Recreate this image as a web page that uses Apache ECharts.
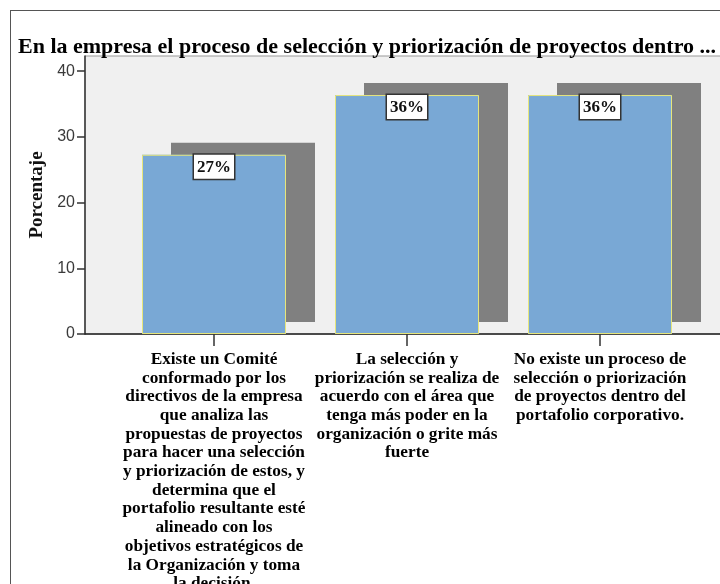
<!DOCTYPE html>
<html>
<head>
<meta charset="utf-8">
<script src="https://cdn.jsdelivr.net/npm/echarts@6/dist/echarts.min.js"></script>
<style>
    body { margin: 0; background: #fff; }
    .frame {
        position: absolute; left: 10px; top: 10px;
        width: 760px; height: 640px;
        border: 1px solid #555;
    }
    .echart { position: absolute; left: 0; top: 0; width: 720px; height: 584px; }
</style>
</head>
<body>
<div class="frame"></div>
<div class="echart"></div>
<script>
    var titleText = 'En la empresa el proceso de selección y priorización de proyectos dentro ...'
    var categories = [
        'Existe un Comité\nconformado por los\ndirectivos de la empresa\nque analiza las\npropuestas de proyectos\npara hacer una selección\ny priorización de estos, y\ndetermina que el\nportafolio resultante esté\nalineado con los\nobjetivos estratégicos de\nla Organización y toma\nla decisión.',
        'La selección y\npriorización se realiza de\nacuerdo con el área que\ntenga más poder en la\norganización o grite más\nfuerte',
        'No existe un proceso de\nselección o priorización\nde proyectos dentro del\nportafolio corporativo.'
    ]
    var percentages = [27.27, 36.36, 36.36]
    var percentLabels = ['27%', '36%', '36%']
    var yTicks = [0, 10, 20, 30, 40]
    var yMax = 42.3   // plot area goes a bit above the last tick

    var serif = '"Liberation Serif", "DejaVu Serif", serif'

    // 基于准备好的dom，初始化echarts实例
    var chart = echarts.init(document.querySelector('.echart'))

    var option = {
        animation: false,
        title: {
            text: titleText,
            left: 13,
            top: 31,
            textStyle: {
                fontFamily: serif,
                fontWeight: 'bold',
                fontSize: 22,
                color: '#000'
            }
        },
        grid: [
            // plot area background + y axis
            {
                left: 85, top: 56, right: -10, bottom: 250,
                outerBoundsMode: 'none',
                containLabel: false,
                show: true,
                backgroundColor: '#f0f0f0',
                borderColor: '#999',
                borderWidth: 1
            },
            // bars
            {
                left: 117.5, top: 56, width: 579, bottom: 250,
                outerBoundsMode: 'none',
                containLabel: false
            }
        ],
        xAxis: [
            {
                gridIndex: 0,
                type: 'value',
                min: 0,
                max: 1,
                axisLine: { show: true, lineStyle: { color: '#222', width: 1.5 } },
                axisTick: { show: false },
                axisLabel: { show: false },
                splitLine: { show: false }
            },
            {
                gridIndex: 1,
                type: 'category',
                data: categories,
                axisLine: { show: false },
                axisTick: {
                    show: true,
                    alignWithLabel: true,
                    length: 12,
                    lineStyle: { color: '#333', width: 1.5 }
                },
                axisLabel: {
                    interval: 0,
                    margin: 16,
                    fontFamily: serif,
                    fontWeight: 'bold',
                    fontSize: 17.3,
                    lineHeight: 18.7,
                    color: '#000',
                    align: 'center'
                }
            }
        ],
        yAxis: [
            {
                gridIndex: 0,
                type: 'value',
                min: 0,
                max: yMax,
                name: 'Porcentaje',
                nameLocation: 'middle',
                nameRotate: 90,
                nameGap: 36,
                nameTextStyle: {
                    fontFamily: serif,
                    fontWeight: 'bold',
                    fontSize: 19,
                    color: '#111'
                },
                axisLine: { show: true, lineStyle: { color: '#333', width: 1.5 } },
                axisTick: {
                    show: true,
                    length: 8,
                    customValues: yTicks,
                    lineStyle: { color: '#333', width: 1.5 }
                },
                axisLabel: {
                    margin: 10,
                    customValues: yTicks,
                    fontFamily: '"Liberation Sans", Arial, sans-serif',
                    fontSize: 16,
                    color: '#3a3a3a'
                },
                splitLine: { show: false }
            },
            {
                gridIndex: 1,
                type: 'value',
                min: 0,
                max: yMax,
                show: false
            }
        ],
        series: [
            // bars with the offset drop shadow
            {
                type: 'bar',
                xAxisIndex: 1,
                yAxisIndex: 1,
                barWidth: 144,
                data: percentages,
                itemStyle: {
                    color: '#79a8d5',
                    shadowColor: '#808080',
                    shadowBlur: 0,
                    shadowOffsetX: 29,
                    shadowOffsetY: -12
                },
                z: 2
            },
            // thin yellow outline + value labels on top
            {
                type: 'bar',
                xAxisIndex: 1,
                yAxisIndex: 1,
                barWidth: 144,
                barGap: '-100%',
                data: percentages,
                itemStyle: {
                    color: 'rgba(0,0,0,0)',
                    borderColor: '#e6e67c',
                    borderWidth: 1
                },
                label: {
                    show: true,
                    position: 'insideTop',
                    distance: 0,
                    formatter: function (p) { return percentLabels[p.dataIndex] },
                    fontFamily: serif,
                    fontWeight: 'bold',
                    fontSize: 17,
                    color: '#111',
                    backgroundColor: '#fff',
                    borderColor: '#333',
                    borderWidth: 1.5,
                    padding: [4, 3, 3, 3]
                },
                z: 3
            }
        ]
    }

    // 绘制图表
    chart.setOption(option)
</script>
</body>
</html>
